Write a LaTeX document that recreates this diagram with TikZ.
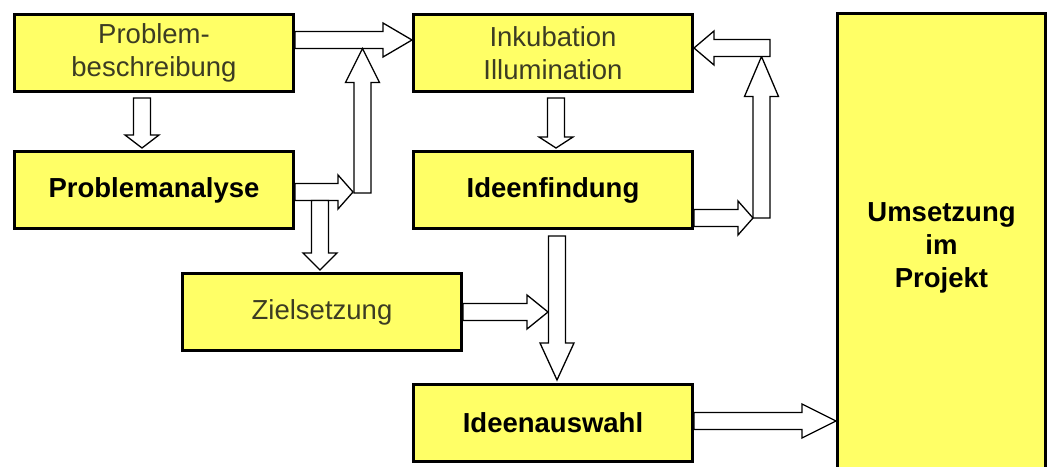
\documentclass[tikz,border=0pt]{standalone}
\usepackage{fontspec}
\setmainfont{Liberation Sans}
\usetikzlibrary{calc}

\definecolor{boxyellow}{RGB}{255,255,102}
\definecolor{softtext}{RGB}{60,60,35}

% hollow block arrow: [head length]{from}{to}
\newcommand{\blockarrow}[3][30pt]{%
  \draw[blockline] ($(#2)!8.5pt!90:(#3)$) -- ($(#3)!#1!(#2)!8.5pt!90:(#3)$)
    -- ($(#3)!#1!(#2)!17pt!90:(#3)$) -- (#3)
    -- ($(#3)!#1!(#2)!17pt!-90:(#3)$) -- ($(#3)!#1!(#2)!8.5pt!-90:(#3)$)
    -- ($(#2)!8.5pt!-90:(#3)$) -- cycle;}

\begin{document}
\begin{tikzpicture}[x=1pt, y=-1pt,
    stage/.style={draw, line width=3pt, fill=boxyellow, minimum width=279pt,
      minimum height=77pt, align=center, font=\fontsize{27.5}{33}\selectfont},
    keystage/.style={stage, font=\fontsize{27.5}{33}\selectfont\bfseries},
    softstage/.style={stage, text=softtext},
    blockline/.style={draw=black, line width=1.3pt, fill=white, line join=miter}]
  \clip (0,0) rectangle (1052,466);

  \node[softstage] (beschr) at (154,53) {Problem-\\beschreibung};
  \node[keystage] (analyse) at (154,190) {Problemanalyse};
  \node[softstage] (inkub) at (553,53) {Inkubation\\Illumination};
  \node[keystage] (findung) at (553,190) {Ideenfindung};
  \node[softstage] (ziel) at (322,312) {Zielsetzung};
  \node[keystage] (auswahl) at (553,423) {Ideenauswahl};
  \node[keystage, minimum width=208pt, minimum height=470pt] (umsetz) at (941.5,248) {Umsetzung\\im\\Projekt};

  % ends of the arrows
  \coordinate (b1) at ([yshift=13pt]beschr.east);
  \coordinate (i1) at ([yshift=13pt]inkub.west);
  \coordinate (b2) at ([xshift=-12pt,yshift=-5pt]beschr.south);
  \coordinate (a2) at ([xshift=-12pt,yshift=2pt]analyse.north);
  \coordinate (a3) at ([yshift=-2pt]analyse.east);
  \coordinate (knickL) at (353,192);
  \coordinate (fussL) at (362.5,193);
  \coordinate (spitzeL) at (362.5,48.5);
  \coordinate (a5) at (320,200.5);
  \coordinate (z5) at (320,270);
  \coordinate (z6) at (548,312);
  \coordinate (f7) at ([xshift=4pt,yshift=-6pt]findung.south);
  \coordinate (t7) at ([xshift=4pt,yshift=3pt]auswahl.north);
  \coordinate (i8) at ([xshift=3pt,yshift=-5pt]inkub.south);
  \coordinate (f8) at ([xshift=3pt,yshift=2pt]findung.north);
  \coordinate (f9) at ([yshift=-28pt]findung.east);
  \coordinate (knickR) at (753,218);
  \coordinate (fussR) at (761.5,218);
  \coordinate (spitzeR) at (761.5,56.5);
  \coordinate (eckR) at (770,48);
  \coordinate (i11) at ([yshift=5pt]inkub.east);
  \coordinate (w12) at ([yshift=2pt]auswahl.east);
  \coordinate (u12) at (836,421);

  \blockarrow[29pt]{b1}{i1}
  \blockarrow[13pt]{b2}{a2}
  \blockarrow[15pt]{a3}{knickL}
  \blockarrow[34pt]{fussL}{spitzeL}
  \blockarrow[17pt]{a5}{z5}
  \blockarrow[21pt]{ziel.east}{z6}
  \blockarrow[37pt]{f7}{t7}
  \blockarrow[11pt]{i8}{f8}
  \blockarrow[15pt]{f9}{knickR}
  \blockarrow[40pt]{fussR}{spitzeR}
  \blockarrow[20pt]{eckR}{i11}
  \blockarrow[34pt]{w12}{u12}
\end{tikzpicture}
\end{document}
